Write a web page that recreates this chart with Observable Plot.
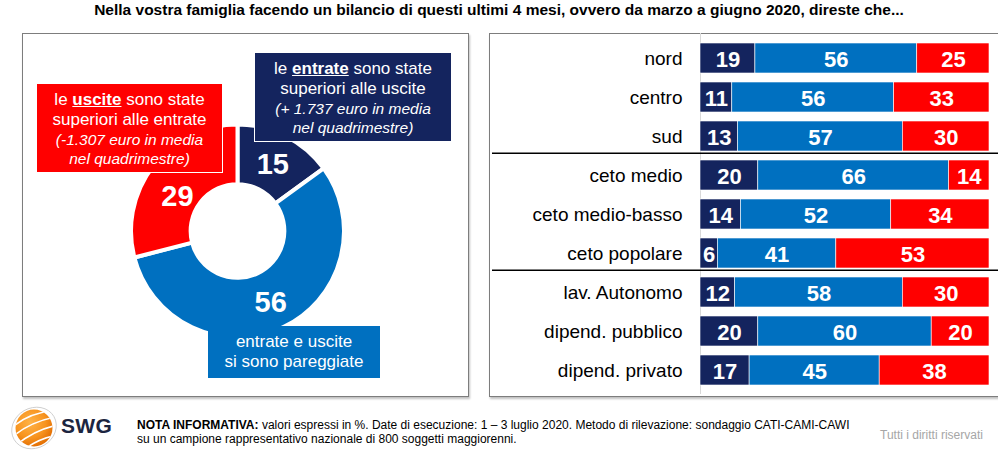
<!DOCTYPE html>
<html>
<head>
<meta charset="utf-8">
<script src="https://cdn.jsdelivr.net/npm/d3@7"></script>
<script src="https://cdn.jsdelivr.net/npm/@observablehq/plot@0.6"></script>
<style>
  body { margin:0; width:998px; height:458px; position:relative; overflow:hidden; background:#fff;
         font-family:"Liberation Sans", Arial, sans-serif; }
  .abs { position:absolute; }
  #title { left:0; top:1px; width:998px; text-align:center; font-weight:bold; font-size:15.5px;
           font-family:"Liberation Sans Narrow", "Liberation Sans", Arial, sans-serif; font-stretch:condensed; color:#000; }
  .panel { position:absolute; border:1.5px solid #7d7d7d; box-shadow:1px 2px 2px rgba(0,0,0,0.25); box-sizing:border-box; }
  .box { position:absolute; color:#fff; text-align:center; box-sizing:border-box; border:1px solid #fff; z-index:5; }
  .box .l { font-size:17px; line-height:20px; }
  .box .i { font-size:15.5px; font-style:italic; line-height:19px; }
  .box u { font-weight:bold; }
  #note { left:137px; top:418px; font-size:12px; line-height:14px; color:#000;
          font-family:"Liberation Sans Narrow", "Liberation Sans", Arial, sans-serif; font-stretch:condensed; }
  #rights { left:880px; top:428px; font-size:12px; color:#a6a6a6;
          font-family:"Liberation Sans Narrow", "Liberation Sans", Arial, sans-serif; font-stretch:condensed; }
  #swg { left:61px; top:414px; font-size:21px; font-weight:bold; color:#1c2540; letter-spacing:0.3px; }
  #bars svg text.val { text-shadow: 1px 1px 1px rgba(0,0,0,0.35); }
</style>
</head>
<body>
<div id="title" class="abs">Nella vostra famiglia facendo un bilancio di questi ultimi 4 mesi, ovvero da marzo a giugno 2020, direste che...</div>

<div class="panel" style="left:22px;top:33px;width:447px;height:364px;"></div>
<div class="panel" style="left:489px;top:33px;width:520px;height:364px;"></div>

<div id="donut" class="abs" style="left:22px;top:33px;"></div>
<div id="bars" class="abs" style="left:489px;top:33px;"></div>

<div class="box" style="left:36px;top:83px;width:187px;height:90px;background:#ff0000;padding-top:6px;">
  <div class="l">le <u>uscite</u> sono state</div>
  <div class="l">superiori alle entrate</div>
  <div class="i">(-1.307 euro in media</div>
  <div class="i">nel quadrimestre)</div>
</div>
<div class="box" style="left:254px;top:52px;width:198px;height:90px;background:#14245e;padding-top:6px;">
  <div class="l">le <u>entrate</u> sono state</div>
  <div class="l">superiori alle uscite</div>
  <div class="i">(+ 1.737 euro in media</div>
  <div class="i">nel quadrimestre)</div>
</div>
<div class="box" style="left:208px;top:326px;width:172px;height:52px;background:#0070c0;padding-top:6px;border:none;">
  <div class="l">entrate e uscite</div>
  <div class="l">si sono pareggiate</div>
</div>

<svg class="abs" style="left:8px;top:405px;" width="52" height="48" viewBox="0 0 52 48">
  <defs>
    <radialGradient id="og" cx="40%" cy="35%" r="70%">
      <stop offset="0" stop-color="#ffb347"/>
      <stop offset="0.6" stop-color="#f7931e"/>
      <stop offset="1" stop-color="#e06a00"/>
    </radialGradient>
    <clipPath id="cc"><circle cx="26" cy="23" r="18.5"/></clipPath>
  </defs>
  <ellipse cx="26" cy="23" rx="23" ry="20" fill="none" stroke="#c9c9c9" stroke-width="0.8" transform="rotate(-30 26 23)"/>
  <circle cx="26" cy="23" r="18.5" fill="url(#og)"/>
  <g clip-path="url(#cc)" fill="none" stroke="#fff" stroke-width="1.6">
    <path d="M2 24 Q20 8 44 6"/>
    <path d="M4 32 Q24 16 48 12"/>
    <path d="M8 40 Q28 24 50 20"/>
    <path d="M14 46 Q32 32 52 30"/>
  </g>
</svg>
<div id="swg" class="abs">SWG</div>
<div id="note" class="abs"><b>NOTA INFORMATIVA:</b> valori espressi in %. Date di esecuzione: 1 – 3 luglio 2020. Metodo di rilevazione: sondaggio CATI-CAMI-CAWI<br>su un campione rappresentativo nazionale di 800 soggetti maggiorenni.</div>
<div id="rights" class="abs">Tutti i diritti riservati</div>

<script>
// ---------- data ----------
const seriesNames = ["entrate superiori", "pareggio", "uscite superiori"];
const seriesColors = ["#14245e", "#0070c0", "#ff0000"];

const donutValues = [15, 56, 29];

const groups = ["nord", "centro", "sud", "ceto medio", "ceto medio-basso", "ceto popolare",
                "lav. Autonomo", "dipend. pubblico", "dipend. privato"];
const entrateSup = [19, 11, 13, 20, 14, 6, 12, 20, 17];
const pareggio   = [56, 56, 57, 66, 52, 41, 58, 60, 45];
const usciteSup  = [25, 33, 30, 14, 34, 53, 30, 20, 38];
const separatorsAfter = ["sud", "ceto popolare"];

// ---------- donut ----------
const pie = d3.pie().sort(null)(donutValues);
const ringInner = 0.44;
const donutData = pie.map((p, i) => {
  const a = (p.startAngle + p.endAngle) / 2;
  const r = (ringInner + 1) / 2;
  return { series: seriesNames[i], value: donutValues[i], x: r * Math.sin(a), y: r * Math.cos(a) };
});

function donutMark(index, scales) {
  const x = scales.x, y = scales.y;
  const cx = x(0), cy = y(0), R = x(1) - x(0);
  const arc = d3.arc().innerRadius(R * ringInner).outerRadius(R);
  const g = d3.create("svg:g").attr("transform", `translate(${cx},${cy})`);
  g.selectAll("path").data(pie).join("path")
    .attr("d", arc)
    .attr("fill", (d, i) => seriesColors[i])
    .attr("stroke", "white")
    .attr("stroke-width", 4)
    .attr("stroke-linejoin", "miter");
  return g.node();
}

const donutPlot = Plot.plot({
  width: 446, height: 363,
  marginLeft: 109, marginRight: 124, marginTop: 91.5, marginBottom: 58.5,
  x: { domain: [-1, 1], axis: null },
  y: { domain: [-1, 1], axis: null },
  style: { fontFamily: "Liberation Sans, Arial, sans-serif", overflow: "visible" },
  marks: [
    donutMark,
    Plot.text(donutData.filter(d => d.series !== "uscite superiori"), {
      x: "x", y: "y", text: d => String(d.value), fill: "white",
      fontSize: 29, fontWeight: "bold", dy: 2
    }),
    Plot.text(donutData.filter(d => d.series === "uscite superiori"), {
      x: "x", y: "y", text: d => String(d.value), fill: "white",
      fontSize: 29, fontWeight: "bold", dy: 12
    })
  ]
});
document.getElementById("donut").append(donutPlot);

// ---------- stacked bars ----------
const barData = [];
[entrateSup, pareggio, usciteSup].forEach((arr, s) => {
  arr.forEach((v, i) => barData.push({ group: groups[i], series: seriesNames[s], value: v }));
});

function separatorMark(index, scales, values, dims) {
  const y = scales.y;
  const g = d3.create("svg:g");
  for (const s of separatorsAfter) {
    const i = groups.indexOf(s);
    const y0 = y(groups[i]), y1 = y(groups[i + 1]);
    const step = y1 - y0;
    const bw = y.bandwidth ? y.bandwidth() : step * 0.76;
    const yy = y0 + bw + (step - bw) * 0.25;
    g.append("line")
      .attr("x1", 3).attr("x2", dims.width)
      .attr("y1", yy).attr("y2", yy)
      .attr("stroke", "#000").attr("stroke-width", 1.3);
  }
  return g.node();
}

const barPlot = Plot.plot({
  width: 509, height: 363,
  marginLeft: 211, marginRight: 9, marginTop: 0, marginBottom: 2,
  x: { domain: [0, 100], axis: null },
  y: { domain: groups, paddingInner: 0.24, paddingOuter: 0.2, label: null, tickSize: 0, tickPadding: 18 },
  color: { domain: seriesNames, range: seriesColors },
  style: { fontFamily: "Liberation Sans, Arial, sans-serif", fontSize: "19px", color: "#000", overflow: "visible" },
  marks: [
    Plot.ruleX([0], { stroke: "#d9d9d9", strokeWidth: 1 }),
    Plot.barX(barData, Plot.stackX({ y: "group", x: "value", fill: "series", z: "series",
      stroke: "white", strokeWidth: 0.6 })),
    Plot.text(barData, Plot.stackX({ y: "group", x: "value", z: "series",
      text: d => String(d.value), fill: "white", fontSize: 22, fontWeight: "bold", dy: 1, className: "val" })),
    separatorMark
  ]
});
barPlot.querySelectorAll("g[aria-label='y-axis tick label'] text").forEach(t => t.setAttribute("font-size", "19"));
document.getElementById("bars").append(barPlot);
</script>
</body>
</html>
